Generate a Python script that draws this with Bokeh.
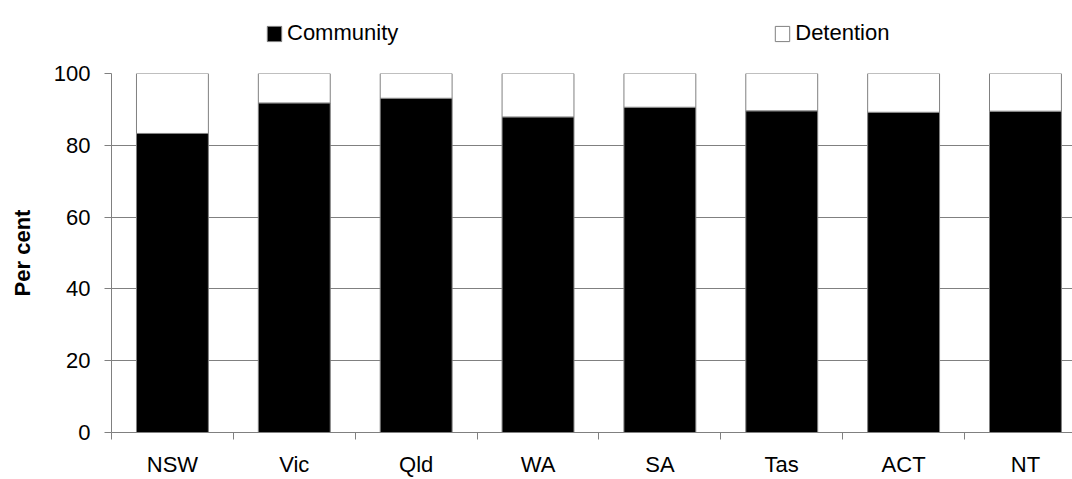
from bokeh.plotting import figure
from bokeh.models import Range1d, FixedTicker, Legend, LegendItem, ColumnDataSource
from bokeh.layouts import column
from bokeh.embed import file_html
from bokeh.resources import INLINE

categories = ["NSW", "Vic", "Qld", "WA", "SA", "Tas", "ACT", "NT"]
community = [83.3, 91.8, 93.1, 87.9, 90.6, 89.6, 89.2, 89.5]
detention = [16.7, 8.2, 6.9, 12.1, 9.4, 10.4, 10.8, 10.5]
series_names = ["Community", "Detention"]
y_ticks = [0, 20, 40, 60, 80, 100]

FONT = "Liberation Sans"
FS = "22px"
GRAY = "#808080"
FILLS = ["black", "white"]

xs = [i + 0.5 for i in range(len(categories))]
src = ColumnDataSource(dict(x=xs, community=community, detention=detention))

# ---------- legend strip (its bars lie outside its visible range; only the legend shows) ----------
lg = figure(width=1072, height=61, output_backend="svg", toolbar_location=None,
            x_axis_type=None, y_axis_type=None, x_range=Range1d(0, 8), y_range=Range1d(1000, 1001),
            min_border_left=0, min_border_right=0, min_border_top=0, min_border_bottom=0)
lg.outline_line_color = None
lg.xgrid.grid_line_color = None
lg.ygrid.grid_line_color = None
lg_items = []
for name, col, fc in zip(series_names, ["community", "detention"], FILLS):
    rr = lg.vbar(x="x", top=col, width=0.5, source=src, fill_color=fc, line_color=GRAY)
    lg_items.append(LegendItem(label=name, renderers=[rr]))
legend = Legend(items=lg_items, orientation="horizontal", location=(154, 15),
                spacing=375, padding=0, margin=0,
                glyph_width=18, glyph_height=19, label_standoff=4,
                border_line_color=None, background_fill_alpha=0,
                label_text_font=FONT, label_text_font_size=FS, label_text_color="black")
lg.add_layout(legend, "center")

# ---------- main chart ----------
p = figure(width=1072, height=418, output_backend="svg", toolbar_location=None,
           x_range=Range1d(0, (1072 - 110.7) / 121.9), y_range=Range1d(0, 100),
           min_border_left=111, min_border_right=0, min_border_top=12, min_border_bottom=47)
p.outline_line_color = None
p.background_fill_color = "white"

p.vbar_stack(["community", "detention"], x="x", width=0.59, source=src,
             fill_color=FILLS, line_color=GRAY, line_width=1)

# x axis
p.xaxis.ticker = FixedTicker(ticks=xs, minor_ticks=list(range(len(categories) + 1)))
p.xaxis.major_label_overrides = {x: c for x, c in zip(xs, categories)}
p.xaxis.major_tick_out = 0
p.xaxis.major_tick_in = 0
p.xaxis.minor_tick_out = 7
p.xaxis.minor_tick_in = 0
p.xaxis.minor_tick_line_color = GRAY
p.xaxis.axis_line_color = GRAY
p.xaxis.major_label_standoff = 12
p.xaxis.major_label_text_font = FONT
p.xaxis.major_label_text_font_size = FS
p.xaxis.major_label_text_color = "black"

# y axis
p.yaxis.ticker = FixedTicker(ticks=y_ticks)
p.yaxis.major_tick_out = 7
p.yaxis.major_tick_in = 0
p.yaxis.minor_tick_line_color = None
p.yaxis.major_tick_line_color = GRAY
p.yaxis.axis_line_color = GRAY
p.yaxis.major_label_standoff = 14
p.yaxis.major_label_text_font = FONT
p.yaxis.major_label_text_font_size = FS
p.yaxis.major_label_text_color = "black"
p.yaxis.axis_label = "Per cent"
p.yaxis.axis_label_text_font = FONT
p.yaxis.axis_label_text_font_size = FS
p.yaxis.axis_label_text_font_style = "bold"
p.yaxis.axis_label_text_color = "black"
p.yaxis.axis_label_standoff = 16

p.xgrid.grid_line_color = None
p.ygrid.grid_line_color = GRAY
p.ygrid.grid_line_width = 1

layout = column(lg, p, spacing=0)
open("out.html", "w").write(file_html(layout, INLINE))
